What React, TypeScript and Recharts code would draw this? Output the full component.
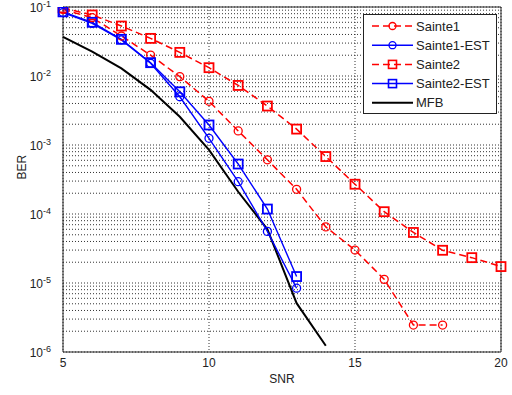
import React from "react";
import {
  LineChart,
  Line,
  XAxis,
  YAxis,
  CartesianGrid,
  ReferenceArea,
} from "recharts";

// SNR points (dB)
const snr = [5, 6, 7, 8, 9, 10, 11, 12, 13, 14, 15, 16, 17, 18, 19, 20];

// Bit error rates per scheme
const sainte1 = [0.092, 0.07, 0.038, 0.0201, 0.0098, 0.0043, 0.0016, 0.00061, 0.000228, 6.5e-5, 3.0e-5, 1.13e-5, 2.46e-6, 2.46e-6];
const sainte1Est = [0.083, 0.058, 0.0333, 0.0153, 0.005, 0.00125, 0.000294, 5.6e-5, 8.4e-6];
const sainte2 = [0.097, 0.0766, 0.053, 0.0351, 0.022, 0.0132, 0.0073, 0.00367, 0.0017, 0.00068, 0.00027, 0.000108, 5.4e-5, 2.98e-5, 2.33e-5, 1.73e-5];
const sainte2Est = [0.085, 0.06, 0.034, 0.0156, 0.0059, 0.00195, 0.00053, 0.000118, 1.24e-5];
const mfb = [0.037, 0.0225, 0.0129, 0.0063, 0.00257, 0.00085, 0.00021, 6.0e-5, 5.1e-6, 1.23e-6];

// Axis ticks
const xTicks = [5, 10, 15, 20];
const decadeExponents = [-6, -5, -4, -3, -2, -1];
const minorMultipliers = [2, 3, 4, 5, 6, 7, 8, 9];

const yTicks: number[] = [];
decadeExponents.forEach((e) => {
  yTicks.push(Math.pow(10, e));
  if (e < -1) minorMultipliers.forEach((m) => yTicks.push(m * Math.pow(10, e)));
});

const rows = snr.map((s, i) => ({
  snr: s,
  sainte1: sainte1[i] ?? null,
  sainte1Est: sainte1Est[i] ?? null,
  sainte2: sainte2[i] ?? null,
  sainte2Est: sainte2Est[i] ?? null,
  mfb: mfb[i] ?? null,
}));

const FONT = "'Liberation Sans', Arial, sans-serif";
const RED = "#ff0000";
const BLUE = "#0000ff";

const circleDot = (color: string) => (p: any) => {
  if (p.cx == null || p.cy == null || p.value == null) return <g key={p.index} />;
  return <circle key={p.index} cx={p.cx} cy={p.cy} r={4} fill="none" stroke={color} strokeWidth={1.3} />;
};

const squareDot = (color: string) => (p: any) => {
  if (p.cx == null || p.cy == null || p.value == null) return <g key={p.index} />;
  return (
    <rect key={p.index} x={p.cx - 4.5} y={p.cy - 4.5} width={9} height={9} fill="none" stroke={color} strokeWidth={1.8} />
  );
};

const YTick = (props: any) => {
  const { x, y, payload } = props;
  const v = payload.value;
  const e = Math.round(Math.log10(v));
  if (Math.abs(v - Math.pow(10, e)) > Math.pow(10, e) * 1e-6) return <g />;
  return (
    <text x={x - 4} y={y + 5} textAnchor="end" fontFamily={FONT} fontSize={12} fill="#222">
      10
      <tspan fontSize={9} dy={-5}>{String(e)}</tspan>
    </text>
  );
};

const XTick = (props: any) => {
  const { x, y, payload } = props;
  return (
    <text x={x} y={y + 7} textAnchor="middle" fontFamily={FONT} fontSize={12} fill="#222">
      {payload.value}
    </text>
  );
};

const legendItems = [
  { name: "Sainte1", color: RED, dash: "7 4", marker: "circle" },
  { name: "Sainte1-EST", color: BLUE, dash: undefined, marker: "circle" },
  { name: "Sainte2", color: RED, dash: "7 4", marker: "square" },
  { name: "Sainte2-EST", color: BLUE, dash: undefined, marker: "square" },
  { name: "MFB", color: "#000", dash: undefined, marker: "none" },
];

const LegendBox = () => (
  <svg width={134} height={100} style={{ display: "block" }}>
    <rect x={0.5} y={0.5} width={133} height={99} fill="#fff" stroke="#222" strokeWidth={1} />
    {legendItems.map((it, i) => {
      const cy = 12 + i * 19.2;
      return (
        <g key={it.name}>
          <line x1={9} x2={50} y1={cy} y2={cy} stroke={it.color} strokeWidth={it.name === "MFB" ? 2 : 1.5} strokeDasharray={it.dash} />
          {it.marker === "circle" && <circle cx={29.5} cy={cy} r={3.5} fill="none" stroke={it.color} strokeWidth={1.3} />}
          {it.marker === "square" && (
            <rect x={25.5} y={cy - 4} width={8} height={8} fill="none" stroke={it.color} strokeWidth={1.6} />
          )}
          <text x={53} y={cy + 4.5} fontFamily={FONT} fontSize={13} fill="#222">
            {it.name}
          </text>
        </g>
      );
    })}
  </svg>
);

export default function App() {
  return (
    <div style={{ position: "absolute", left: 0, top: 0, width: 512, height: 395, background: "#fff" }}>
      <LineChart width={512} height={395} data={rows} margin={{ top: 7, right: 11, bottom: 13, left: 0 }}>
        <CartesianGrid stroke="#333" strokeDasharray="1 2" strokeWidth={1} />
        <XAxis
          dataKey="snr"
          type="number"
          domain={[5, 20]}
          ticks={xTicks}
          tick={<XTick />}
          tickLine={false}
          axisLine={false}
          height={30}
          label={{ value: "SNR", position: "insideBottom", offset: -1, fontFamily: FONT, fontSize: 12, fill: "#222" }}
        />
        <YAxis
          scale="log"
          domain={[1e-6, 1e-1]}
          allowDataOverflow
          ticks={yTicks}
          interval={0}
          tick={<YTick />}
          tickLine={false}
          axisLine={false}
          width={63}
          label={{ value: "BER", angle: -90, position: "insideLeft", offset: 22, fontFamily: FONT, fontSize: 12, fill: "#222" }}
        />
        <ReferenceArea x1={5} x2={20} y1={1e-6} y2={1e-1} fill="none" stroke="#222" strokeWidth={1} ifOverflow="visible" />
        <Line dataKey="mfb" stroke="#000" strokeWidth={2} dot={false} isAnimationActive={false} />
        <Line dataKey="sainte1" stroke={RED} strokeWidth={1.5} strokeDasharray="7 4" dot={circleDot(RED)} isAnimationActive={false} />
        <Line dataKey="sainte1Est" stroke={BLUE} strokeWidth={1.4} dot={circleDot(BLUE)} isAnimationActive={false} />
        <Line dataKey="sainte2" stroke={RED} strokeWidth={1.5} strokeDasharray="7 4" dot={squareDot(RED)} isAnimationActive={false} />
        <Line dataKey="sainte2Est" stroke={BLUE} strokeWidth={1.4} dot={squareDot(BLUE)} isAnimationActive={false} />
      </LineChart>
      <div style={{ position: "absolute", left: 363, top: 14 }}>
        <LegendBox />
      </div>
    </div>
  );
}
